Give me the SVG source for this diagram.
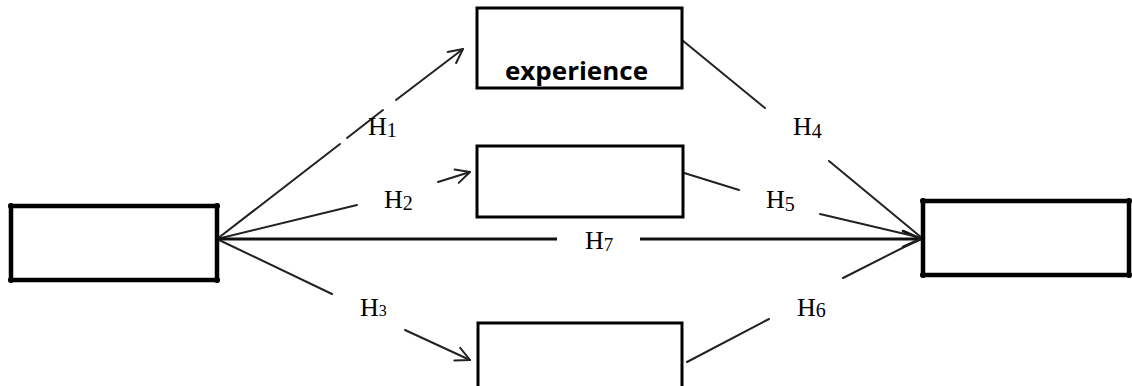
<svg xmlns="http://www.w3.org/2000/svg" width="1132" height="386" viewBox="0 0 1132 386">
<style>
.thick{fill:#fff;stroke:#000;stroke-width:4.5}
.box{fill:#fff;stroke:#000;stroke-width:3}
.dot{fill:#000}
.ln{fill:none;stroke:#222;stroke-width:2;stroke-linecap:round}
.main{fill:none;stroke:#111;stroke-width:3}
.lbl{font-family:"Liberation Serif","Times New Roman",serif;font-size:26px;fill:#000}
.sub{font-size:20px}
.name{font-family:"Open Sans","Liberation Sans",Arial,sans-serif;font-weight:bold;font-size:25px;fill:#000}
</style>
<defs>
<marker id="arr" markerUnits="userSpaceOnUse" markerWidth="20" markerHeight="20" refX="17" refY="10" orient="auto">
<path d="M3,3 L17,10 L3,17" fill="none" stroke="#222" stroke-width="2" stroke-linecap="round" stroke-linejoin="round"/>
</marker>
<marker id="arrBig" markerUnits="userSpaceOnUse" markerWidth="24" markerHeight="24" refX="21" refY="12" orient="auto">
<path d="M3,4 L21,12 L3,20" fill="none" stroke="#111" stroke-width="2.5" stroke-linecap="round" stroke-linejoin="round"/>
</marker>
</defs>
<g id="connectors">
<!-- H1 -->
<line class="ln" x1="217" y1="239" x2="340" y2="144"/>
<line class="ln" x1="347" y1="138" x2="383" y2="110"/>
<line class="ln" x1="396" y1="100" x2="463" y2="49" marker-end="url(#arr)"/>
<!-- H2 -->
<line class="ln" x1="217" y1="239" x2="357" y2="205"/>
<line class="ln" x1="438" y1="182" x2="470" y2="172" marker-end="url(#arr)"/>
<!-- H3 -->
<line class="ln" x1="217" y1="239" x2="332" y2="294"/>
<line class="ln" x1="405" y1="330" x2="470" y2="360" marker-end="url(#arr)"/>
<!-- H7 -->
<line class="main" x1="217" y1="239" x2="557" y2="239"/>
<line class="main" x1="640" y1="239" x2="921" y2="239" marker-end="url(#arrBig)"/>
<!-- H4 -->
<line class="ln" x1="682" y1="40" x2="765" y2="108"/>
<line class="ln" x1="829" y1="161" x2="922" y2="238"/>
<!-- H5 -->
<line class="ln" x1="681" y1="172" x2="739" y2="190"/>
<line class="ln" x1="820" y1="214" x2="922" y2="238"/>
<!-- H6 -->
<line class="ln" x1="687" y1="362" x2="769" y2="319"/>
<line class="ln" x1="843" y1="278" x2="922" y2="238"/>
</g>
<g id="labels">
<text class="lbl" x="368" y="135">H<tspan class="sub" dy="2">1</tspan></text>
<text class="lbl" x="384" y="208">H<tspan class="sub" dy="2">2</tspan></text>
<text class="lbl" x="360" y="316">H<tspan font-size="16">3</tspan></text>
<text class="lbl" x="793" y="135">H<tspan class="sub" dy="3">4</tspan></text>
<text class="lbl" x="766" y="208">H<tspan class="sub" dy="3">5</tspan></text>
<text class="lbl" x="797" y="316">H<tspan class="sub" dy="1">6</tspan></text>
<text class="lbl" x="585" y="249" font-size="22">H<tspan font-size="19" dy="2">7</tspan></text>
</g>
<g id="node-left">
<rect class="thick" x="11" y="206" width="206" height="74"/>
<circle class="dot" cx="11" cy="206" r="3"/><circle class="dot" cx="217" cy="206" r="3"/>
<circle class="dot" cx="11" cy="280" r="3"/><circle class="dot" cx="217" cy="280" r="3"/>
</g>
<g id="node-experience">
<rect class="box" x="477" y="8" width="205" height="80"/>
<text class="name" x="505" y="80" textLength="143" lengthAdjust="spacingAndGlyphs">experience</text>
</g>
<g id="node-middle">
<rect class="box" x="477" y="146" width="206" height="71"/>
</g>
<g id="node-bottom">
<rect class="box" x="478" y="323" width="204" height="80"/>
</g>
<g id="node-right">
<rect class="thick" x="923" y="201" width="206" height="74"/>
<circle class="dot" cx="923" cy="201" r="3"/><circle class="dot" cx="1129" cy="201" r="3"/>
<circle class="dot" cx="923" cy="275" r="3"/><circle class="dot" cx="1129" cy="275" r="3"/>
</g>
</svg>
